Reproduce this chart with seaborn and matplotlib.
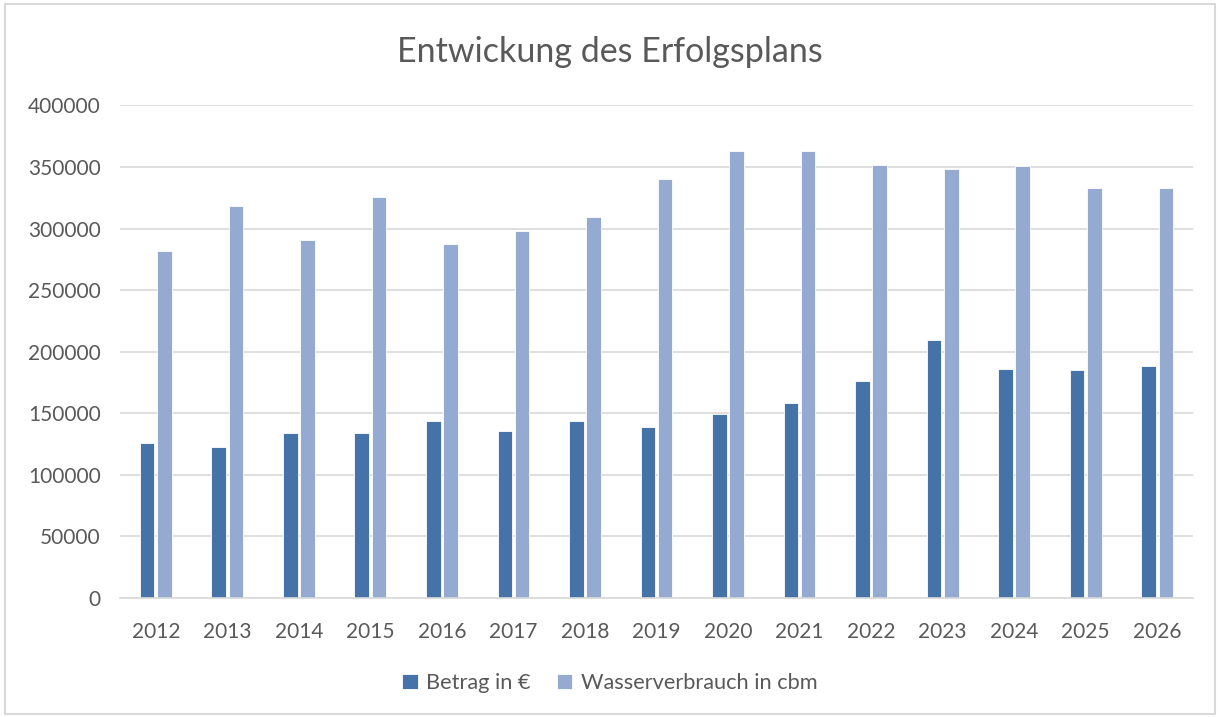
import pandas as pd
import matplotlib.pyplot as plt
import seaborn as sns

# Werte
jahre = ['2012', '2013', '2014', '2015', '2016', '2017', '2018', '2019',
         '2020', '2021', '2022', '2023', '2024', '2025', '2026']
betrag = [125800, 123000, 133900, 133900, 143900, 136000, 143900, 139000,
          149800, 158300, 175900, 209800, 185900, 185400, 188100]
wasser = [281500, 318700, 290800, 325500, 287800, 298400, 309800, 340100,
          362800, 362800, 351500, 348800, 351200, 333300, 333300]
serien = ['Betrag in €', 'Wasserverbrauch in cbm']
farben = ['#4673A7', '#95AAD1']

df = pd.DataFrame({'Jahr': jahre * 2,
                   'Wert': betrag + wasser,
                   'Serie': [serien[0]] * len(jahre) + [serien[1]] * len(jahre)})

sns.set_style('white')
plt.rcParams['font.family'] = ['Lato', 'DejaVu Sans']
grau = '#595959'

fig = plt.figure(figsize=(12.2, 7.17), dpi=100)
ax = fig.add_axes([120 / 1220, 1 - 598 / 717, (1193 - 120) / 1220, (598 - 105.5) / 717])
sns.barplot(data=df, x='Jahr', y='Wert', hue='Serie', palette=farben, saturation=1,
            width=0.48, gap=0.15, edgecolor='white', linewidth=0.6, ax=ax)

ax.set_ylim(0, 400000)
ax.set_yticks(range(0, 400001, 50000))
ax.set_xlim(-0.5, len(jahre) - 0.5)
ax.grid(axis='y', color='#D9D9D9', linewidth=1.2)
ax.set_axisbelow(True)
for s in ['top', 'right', 'left']:
    ax.spines[s].set_visible(False)
ax.spines['bottom'].set_color('#D9D9D9')
ax.spines['bottom'].set_linewidth(1.2)
ax.tick_params(axis='both', length=0, labelsize=15, colors=grau)
ax.tick_params(axis='x', pad=17)
ax.tick_params(axis='y', pad=14)
ax.set_xlabel('')
ax.set_ylabel('')

fig.text(0.5, 1 - 52 / 717, 'Entwickung des Erfolgsplans', ha='center', va='center',
         fontsize=24.5, color=grau)

handles, labels = ax.get_legend_handles_labels()
ax.legend_.remove()
fig.legend(handles, labels, loc='center', bbox_to_anchor=(0.5, 1 - 683 / 717),
           ncol=2, frameon=False, fontsize=15.7, labelcolor=grau,
           handlelength=0.7, handleheight=0.7, handletextpad=0.4, columnspacing=1.2)

# Rahmen um das Diagramm
fig.patches.append(plt.Rectangle((0.004, 0.004), 0.992, 0.99, transform=fig.transFigure,
                                 fill=False, edgecolor='#D9D9D9', linewidth=1.5))

fig.savefig('out.png', dpi=100)
